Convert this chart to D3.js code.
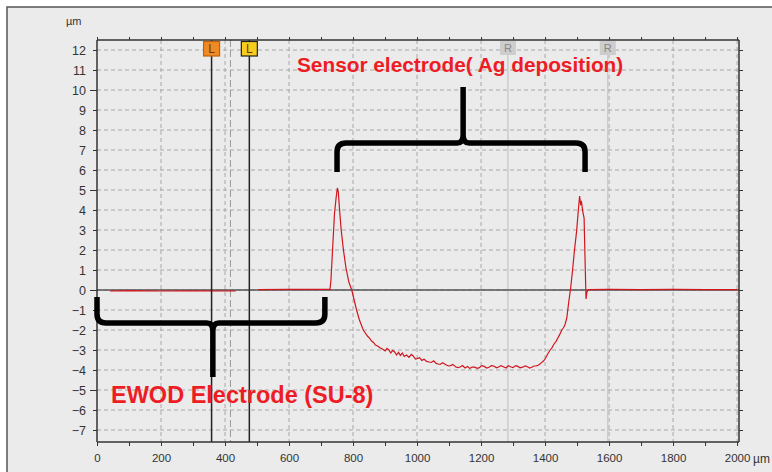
<!DOCTYPE html>
<html><head><meta charset="utf-8">
<script src="https://cdn.jsdelivr.net/npm/d3@7"></script>
<style>body{margin:0;background:#fff;}svg{display:block;font-family:"Liberation Sans",Arial,sans-serif;}</style>
</head><body><svg id="c" width="772" height="472"></svg>
<script>
// ---- data ----
const xTicks = [0,200,400,600,800,1000,1200,1400,1600,1800,2000];
const yTicks = [12,11,10,9,8,7,6,5,4,3,2,1,0,-1,-2,-3,-4,-5,-6,-7];
const profileX = [40,100,200,300,434,null,504,600,700,728,731,736,742,747,751,754,758,763,770,778,787,796,805,811,820,832,845,852,858,864,870,877,885,892,900,906,912,918,924,930,936,942,948,954,960,967,975,982,988,995,1000,1008,1015,1022,1030,1038,1045,1052,1060,1066,1072,1080,1090,1098,1105,1112,1120,1128,1135,1142,1150,1158,1165,1172,1180,1188,1195,1202,1210,1218,1225,1232,1240,1248,1255,1262,1270,1278,1285,1292,1300,1308,1315,1322,1330,1338,1345,1352,1360,1366,1372,1378,1384,1390,1395,1400,1405,1410,1416,1422,1428,1434,1440,1446,1452,1457,1462,1468,1474,1480,1486,1492,1499,1504,1508,1511,1514,1518,1522,1525,1528,1531,1536,1600,1700,1800,1900,2000];
const profileY = [-0.05,-0.03,-0.05,-0.04,-0.05,null,0.02,0.03,0.03,0.03,0.5,2.0,3.8,4.6,5.1,4.9,4.0,3.0,2.0,1.1,0.4,0.0,-0.6,-1.0,-1.5,-2.0,-2.3,-2.42,-2.55,-2.62,-2.75,-2.8,-2.9,-2.95,-3.05,-2.92,-3.0,-3.15,-3.02,-3.1,-3.25,-3.12,-3.27,-3.15,-3.32,-3.25,-3.37,-3.22,-3.3,-3.45,-3.43,-3.38,-3.52,-3.46,-3.57,-3.6,-3.62,-3.54,-3.67,-3.7,-3.72,-3.64,-3.74,-3.8,-3.78,-3.72,-3.84,-3.88,-3.85,-3.78,-3.9,-3.82,-3.92,-3.85,-3.86,-3.92,-3.88,-3.78,-3.82,-3.9,-3.86,-3.78,-3.8,-3.89,-3.85,-3.78,-3.84,-3.9,-3.79,-3.84,-3.88,-3.78,-3.82,-3.89,-3.86,-3.8,-3.84,-3.9,-3.85,-3.8,-3.8,-3.76,-3.7,-3.62,-3.55,-3.45,-3.3,-3.15,-3.0,-2.88,-2.7,-2.58,-2.4,-2.22,-2.0,-1.9,-1.75,-1.4,-0.6,0.1,1.0,2.0,3.0,4.0,4.7,4.3,4.4,3.9,3.6,1.5,-0.45,-0.1,0.02,0.03,0.02,0.03,0.02,0.02];
const cursorL = [358, 476];
const cursorR = [1284, 1596];
const refLine = 417;
const braceTop = {x0:750, x1:1525, xm:1144, yEnd:5.9, yBar:7.35, yTip:10.15};
const braceBot = {x0:0, x1:712, xm:362, yEnd:-0.35, yBar:-1.65, yTip:-4.35};
const labelTop = "Sensor electrode( Ag deposition)";
const labelBot = "EWOD Electrode (SU-8)";
const unit = "µm";

(function(){
const svg = d3.select("#c");
const L=97, R=739, T=40, B=442;
const x = d3.scaleLinear().domain([0,2006]).range([L,R]);
const y = d3.scaleLinear().domain([-7.6,12.5]).range([B,T]);

svg.append("rect").attr("x",0).attr("y",0).attr("width",772).attr("height",472).attr("fill","#fff");
svg.append("rect").attr("x",7).attr("y",7).attr("width",800).attr("height",500)
  .attr("fill","#ebebeb").attr("stroke","#555").attr("stroke-width",1.5);

const g = svg.append("g");
g.selectAll(".hg").data(yTicks).join("line")
  .attr("x1",L).attr("x2",R).attr("y1",d=>y(d)).attr("y2",d=>y(d))
  .attr("stroke","#a8a8a8").attr("stroke-width",1).attr("stroke-dasharray","4,3");
g.selectAll(".vg").data(xTicks.filter(d=>d>0)).join("line")
  .attr("x1",d=>x(d)).attr("x2",d=>x(d)).attr("y1",T).attr("y2",B)
  .attr("stroke","#a8a8a8").attr("stroke-width",1).attr("stroke-dasharray","4,3");

g.selectAll(".rc").data(cursorR).join("line")
  .attr("x1",d=>x(d)).attr("x2",d=>x(d)).attr("y1",T).attr("y2",B)
  .attr("stroke","#c4c4c4").attr("stroke-width",1.2);
g.append("line").attr("x1",x(refLine)).attr("x2",x(refLine)).attr("y1",T).attr("y2",B)
  .attr("stroke","#999").attr("stroke-width",1).attr("stroke-dasharray","7,3");

g.append("line").attr("x1",L).attr("x2",R).attr("y1",y(0)).attr("y2",y(0))
  .attr("stroke","#555").attr("stroke-width",1.5);

const pts = profileX.map((d,i)=>[d,profileY[i]]);
g.append("path").datum(pts)
  .attr("d", d3.line().defined(d=>d[0]!==null).x(d=>x(d[0])).y(d=>y(d[1])))
  .attr("fill","none").attr("stroke","#d0161e").attr("stroke-width",1.2);

g.selectAll(".lc").data(cursorL).join("line")
  .attr("x1",d=>x(d)).attr("x2",d=>x(d)).attr("y1",T).attr("y2",B)
  .attr("stroke","#222").attr("stroke-width",1.5);

const axC="#333";
const ax = (sel)=>sel.attr("color",axC).call(s=>s.select(".domain").attr("stroke-width",1.5));
const axB = svg.append("g").attr("transform",`translate(0,${B})`)
  .call(d3.axisBottom(x).tickValues(d3.range(0,2001,100)).tickSize(4).tickFormat(d=>d%200===0?d:""));
axB.call(ax);
axB.selectAll("text").attr("font-size",11.5).attr("fill","#333").attr("dy","1.1em");
axB.select(".domain").attr("d",`M${L},0H${R}`);
const axT = svg.append("g").attr("transform",`translate(0,${T})`)
  .call(d3.axisTop(x).tickValues(d3.range(0,2001,100)).tickSize(3).tickFormat(""));
axT.call(ax); axT.select(".domain").attr("d",`M${L},0H${R}`);
const axL = svg.append("g").attr("transform",`translate(${L},0)`)
  .call(d3.axisLeft(y).tickValues(yTicks).tickSize(4).tickPadding(7));
axL.call(ax); axL.select(".domain").attr("d",`M0,${T}V${B}`);
axL.selectAll("text").attr("font-size",12.5).attr("fill","#333");
axL.selectAll(".tick line").attr("x2",d=>d%5===0?-7:-4);
const axR = svg.append("g").attr("transform",`translate(${R},0)`)
  .call(d3.axisRight(y).tickValues(yTicks).tickSize(4).tickFormat(""));
axR.call(ax); axR.select(".domain").attr("d",`M0,${T}V${B}`);

svg.append("text").attr("x",66).attr("y",25).attr("font-size",11).attr("fill","#333").text(unit);
svg.append("text").attr("x",753).attr("y",463).attr("font-size",12).attr("fill","#333").text(unit);

const lColors=[["#f08a24","#c06010"],["#f8cc1c","#222"]];
cursorL.forEach((v,i)=>{
  svg.append("rect").attr("x",x(v)-8).attr("y",T+1.5).attr("width",16).attr("height",14.5)
    .attr("fill",lColors[i][0]).attr("stroke",lColors[i][1]).attr("stroke-width",1.2);
  svg.append("text").attr("x",x(v)).attr("y",T+13).attr("text-anchor","middle")
    .attr("font-size",12).attr("fill","#6a3a00").text("L");
});
cursorR.forEach(v=>{
  svg.append("rect").attr("x",x(v)-8).attr("y",T+1).attr("width",16).attr("height",14)
    .attr("fill","#cdcdcd");
  svg.append("text").attr("x",x(v)).attr("y",T+12).attr("text-anchor","middle")
    .attr("font-size",11).attr("fill","#888").text("R");
});

function bracePath(b, s){
  const r=9;
  const X0=x(b.x0), X1=x(b.x1), XM=x(b.xm), YE=y(b.yEnd), YB=y(b.yBar), YT=y(b.yTip);
  return `M${X0},${YE} L${X0},${YB - s*r} Q${X0},${YB} ${X0+r},${YB} L${XM-6},${YB} Q${XM},${YB} ${XM},${YB+s*8} L${XM},${YT} M${XM},${YB+s*8} Q${XM},${YB} ${XM+6},${YB} L${X1-r},${YB} Q${X1},${YB} ${X1},${YB-s*r} L${X1},${YE}`;
}
svg.append("path").attr("d",bracePath(braceTop,-1)).attr("fill","none")
  .attr("stroke","#000").attr("stroke-width",5.5);
svg.append("path").attr("d",bracePath(braceBot,1)).attr("fill","none")
  .attr("stroke","#000").attr("stroke-width",5.5);

svg.append("text").attr("x",297).attr("y",72).attr("font-size",20.8).attr("font-weight","bold")
  .attr("fill","#ee1c24").text(labelTop);
svg.append("text").attr("x",111).attr("y",402.5).attr("font-size",23.5).attr("font-weight","bold")
  .attr("fill","#ee1c24").text(labelBot);
})();
</script></body></html>
